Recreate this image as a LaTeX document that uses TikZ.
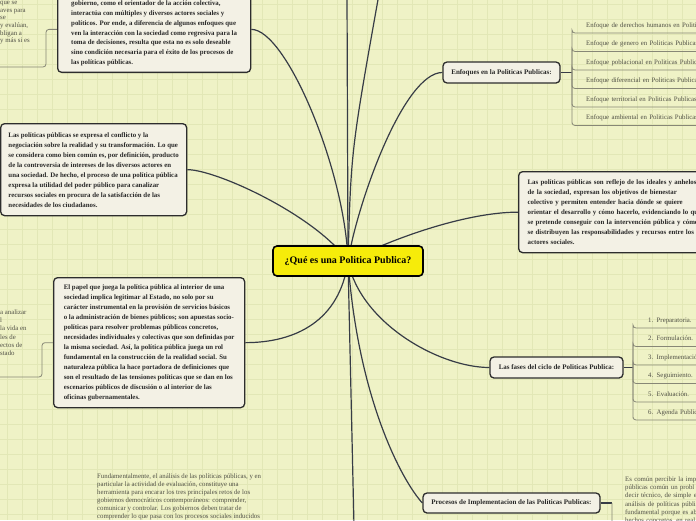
\documentclass[tikz,border=0pt]{standalone}
\usepackage{fontspec}
\setmainfont{Liberation Serif}
\definecolor{bgc}{RGB}{239,242,198}
\definecolor{gridc}{RGB}{226,231,182}
\definecolor{linec}{RGB}{55,60,70}
\definecolor{boxfill}{RGB}{243,241,229}
\definecolor{boxdraw}{RGB}{45,45,45}
\definecolor{txtdark}{RGB}{40,40,40}
\definecolor{sublinec}{RGB}{135,135,118}
\definecolor{subtext}{RGB}{80,80,70}
\definecolor{centerfill}{RGB}{246,236,10}
\pgfdeclarelayer{bgl}
\pgfdeclarelayer{edgel}
\pgfsetlayers{bgl,edgel,main}
\begin{document}
\begin{tikzpicture}[x=1pt,y=-1pt,
 box/.style={draw=boxdraw,line width=1.3pt,fill=boxfill,rounded corners=4pt,text=txtdark,align=left,inner xsep=3pt,inner ysep=0pt},
 boxfont/.style={font=\bfseries\fontsize{6.85}{10}\selectfont},
 topic/.style={draw=boxdraw,line width=1.3pt,fill=boxfill,rounded corners=4pt,text=txtdark,font=\bfseries\fontsize{7}{9}\selectfont,inner sep=2pt},
 mainc/.style={draw=black,line width=1.6pt,fill=centerfill,rounded corners=4pt,font=\bfseries\fontsize{10}{12}\selectfont,minimum width=150pt,minimum height=30pt},
 conn/.style={draw=linec,line width=1.2pt},
 subl/.style={draw=sublinec,line width=0.8pt,rounded corners=3pt},
 leaf/.style={anchor=south west,text=subtext,font=\fontsize{6.8}{8}\selectfont,align=left,text width=180pt,inner ysep=4pt,text height=5pt,text depth=1.6pt},
 frag/.style={text=subtext,font=\fontsize{6.8}{8}\selectfont,align=left,inner sep=0pt}
]
\useasboundingbox (0,0) rectangle (696,520);
\begin{pgfonlayer}{bgl}
\fill[bgc] (0,0) rectangle (696,520);
\foreach \x in {7,22,...,696} \draw[gridc,line width=0.6pt] (\x,0) -- (\x,520);
\foreach \y in {4,19,...,520} \draw[gridc,line width=0.6pt] (0,\y) -- (696,\y);
\end{pgfonlayer}

% central topic
\node[mainc] (c) at (348,261) {¿Qué es una Politica Publica?};

% big text boxes
\node[box,font=\bfseries\fontsize{6.85}{9.8}\selectfont,anchor=south west,minimum width=193pt,minimum height=78pt] (b1) at (57,73) {gobierno, como el orientador de la acción colectiva,\\
interactúa con múltiples y diversos actores sociales y\\
políticos. Por ende, a diferencia de algunos enfoques que\\
ven la interacción con la sociedad como regresiva para la\\
toma de decisiones, resulta que esta no es solo deseable\\
sino condición necesaria para el éxito de los procesos de\\
las políticas públicas.};

\node[box,boxfont,anchor=north west,minimum width=186pt,minimum height=92pt] (b2) at (0,123) {Las políticas públicas se expresa el conflicto y la\\
negociación sobre la realidad y su transformación. Lo que\\
se considera como bien común es, por definición, producto\\
de la controversia de intereses de los diversos actores en\\
una sociedad. De hecho, el proceso de una política pública\\
expresa la utilidad del poder público para canalizar\\
recursos sociales en procura de la satisfacción de las\\
necesidades de los ciudadanos.};

\node[box,boxfont,anchor=north west,minimum width=191pt,minimum height=130pt] (b3) at (53,277) {El papel que juega la política pública al interior de una\\
sociedad implica legitimar al Estado, no solo por su\\
carácter instrumental en la provisión de servicios básicos\\
o la administración de bienes públicos; son apuestas socio-\\
políticas para resolver problemas públicos concretos,\\
necesidades individuales y colectivas que son definidas por\\
la misma sociedad. Así, la política pública juega un rol\\
fundamental en la construcción de la realidad social. Su\\
naturaleza pública la hace portadora de definiciones que\\
son el resultado de las tensiones políticas que se dan en los\\
escenarios públicos de discusión o al interior de las\\
oficinas gubernamentales.};

\node[box,boxfont,anchor=north west,text width=200pt,inner xsep=9pt,minimum height=81pt] (b4) at (518,171) {Las políticas públicas son reflejo de los ideales y anhelos\\
de la sociedad, expresan los objetivos de bienestar\\
colectivo y permiten entender hacia dónde se quiere\\
orientar el desarrollo y cómo hacerlo, evidenciando lo que\\
se pretende conseguir con la intervención pública y cómo\\
se distribuyen las responsabilidades y recursos entre los\\
actores sociales.};

% topics
\node[topic,minimum width=117pt,minimum height=21pt] (enf) at (501.5,72.5) {Enfoques en la Politicas Publicas:};
\node[topic,minimum width=133pt,minimum height=21pt] (fas) at (556.5,367.5) {Las fases del ciclo de Politicas Publica:};
\node[topic,minimum width=177pt,minimum height=20pt] (pro) at (511.5,503) {Procesos de Implementacion de las Politicas Publicas:};

% enfoques leaves
\node[leaf,inner xsep=14pt] (e1) at (572,33) {Enfoque de derechos humanos en Politicas Publicas};
\node[leaf,inner xsep=14pt] (e2) at (572,51.5) {Enfoque de genero en Politicas Publicas};
\node[leaf,inner xsep=14pt] (e3) at (572,70) {Enfoque poblacional en Politicas Publicas};
\node[leaf,inner xsep=14pt] (e4) at (572,88.5) {Enfoque diferencial en Politicas Publicas};
\node[leaf,inner xsep=14pt] (e5) at (572,107) {Enfoque territorial en Politicas Publicas};
\node[leaf,inner xsep=14pt] (e6) at (572,125.5) {Enfoque ambiental en Politicas Publicas};

% fases leaves
\node[leaf,inner xsep=15pt] (f1) at (633,328) {1. Preparatoria.};
\node[leaf,inner xsep=15pt] (f2) at (633,346.5) {2. Formulación.};
\node[leaf,inner xsep=15pt] (f3) at (633,365) {3. Implementación.};
\node[leaf,inner xsep=15pt] (f4) at (633,383.5) {4. Seguimiento.};
\node[leaf,inner xsep=15pt] (f5) at (633,402) {5. Evaluación.};
\node[leaf,inner xsep=15pt] (f6) at (633,420) {6. Agenda Publica.};

% procesos leaf (partly visible)
\node[frag,font=\fontsize{6.8}{8.3}\selectfont,anchor=north west,inner xsep=13pt,inner ysep=4pt,text width=120pt,minimum height=80pt] (p1) at (612,464) {Es común percibir la imp\\
públicas común un probl\\
decir técnico, de simple e\\
análisis de políticas públi\\
fundamental porque es ab\\
hechos concretos, en real\\
cambio de estructuras, so};

% free texts partly visible
\node[frag,font=\fontsize{6.8}{8.1}\selectfont,anchor=north west] (t1) at (97,473.5) {Fundamentalmente, el análisis de las políticas públicas, y en\\
particular la actividad de evaluación, constituye una\\
herramienta para encarar los tres principales retos de los\\
gobiernos democráticos contemporáneos: comprender,\\
comunicar y controlar. Los gobiernos deben tratar de\\
comprender lo que pasa con los procesos sociales inducidos};

\node[frag,font=\fontsize{6.8}{7.6}\selectfont,anchor=north west] (t2) at (0,1.3) {que se\\
aves para\\
se\\
y evalúan,\\
bligan a\\
y más si es};

\node[frag,font=\fontsize{6.8}{8.2}\selectfont,anchor=north west] (t3) at (0,309.5) {a analizar\\
l\\
la vida en\\
les de\\
ectos de\\
stado};

% off-picture ends
\coordinate (top1) at (347,-6);
\coordinate (top2) at (379,-6);
\coordinate (bot1) at (354,526);
\coordinate (tlend) at (-6,67);
\coordinate (mlend) at (-6,377);
\coordinate (espine) at (572,72.5);
\coordinate (fspine) at (633,367.5);
\coordinate (pspine) at (612,503);

\begin{pgfonlayer}{edgel}
% main connectors
\draw[conn] ([yshift=4pt]b1.east) .. controls +(35,0) and +(-3,-91) .. (c.center);
\draw[conn] (c.center) -- (top1);
\draw[conn] (c.center) .. controls +(3,-110) .. (top2);
\draw[conn] (b2.east) .. controls +(29,0) and +(-33,-46) .. (c.center);
\draw[conn] (c.center) .. controls +(10,-61) and +(-38,0) .. (enf.west);
\draw[conn] (c.center) .. controls +(52,-26) and +(-48,0) .. (b4.west);
\draw[conn] (c.center) .. controls +(-8,60) and +(50,0) .. (b3.east);
\draw[conn] (c.center) -- (bot1);
\draw[conn] (c.center) .. controls +(12,62) and +(-50,0) .. (fas.west);
\draw[conn] (c.center) .. controls +(10,139) and +(-20,-22) .. (pro.west);
% stubs
\draw[conn] (enf.east) -- (espine);
\draw[conn] (fas.east) -- (fspine);
\draw[conn] (pro.east) -- (pspine);
% brackets
\foreach \n in {e1,e2,e3,e4,e5,e6}
  \draw[subl] (espine) |- (\n.south west) -- (\n.south east);
\foreach \n in {f1,f2,f3,f4,f5,f6}
  \draw[subl] (fspine) |- (\n.south west) -- (\n.south east);
\draw[subl] (pspine) |- (p1.south west) -- (p1.south east);
\draw[subl] ([yshift=4pt]b1.west) -- ++(-11,0) |- (tlend);
\draw[subl] (b3.west) -- ++(-11,0) |- (mlend);
\end{pgfonlayer}
\end{tikzpicture}
\end{document}
